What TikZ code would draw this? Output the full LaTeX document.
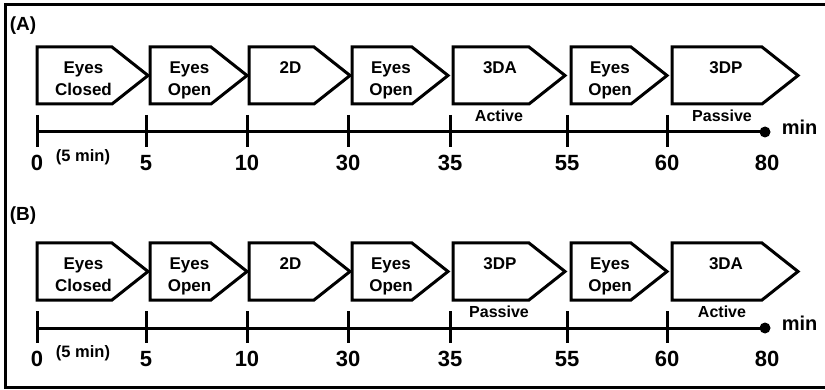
\documentclass[tikz,border=0pt]{standalone}
\usepackage{fontspec}
\setmainfont{Liberation Sans}
\usetikzlibrary{positioning}

\begin{document}
\begin{tikzpicture}[x=1pt, y=-1pt, line width=3pt,
  stagebox/.style={line join=miter},
  stagelabel/.style={anchor=north, align=center, inner sep=0pt,
    font=\fontsize{17}{22}\selectfont\bfseries},
  sublabel/.style={font=\fontsize{16}{16}\selectfont\bfseries},
  ticklabel/.style={font=\fontsize{22}{22}\selectfont\bfseries},
  panellabel/.style={font=\fontsize{19}{19}\selectfont\bfseries}]
  \useasboundingbox (0,0) rectangle (825,390);
  \draw (5,4.5) rectangle (832,387);
  \node[panellabel] (labA) at (23,26) {(A)};
  \node[panellabel] (labB) at (23,216) {(B)};
  % the two orders of the session
  \foreach \p/\dy/\ka/\kb/\ta/\tb in
      {A/0/3DA/3DP/Active/Passive, B/196/3DP/3DA/Passive/Active} {
    \begin{scope}[yshift=-\dy pt]
      \foreach \i/\l/\t/\txt in {1/37/148/{Eyes\\Closed}, 2/150/247/{Eyes\\Open},
          3/249/350/2D, 4/352/448/{Eyes\\Open}, 5/453/565/\ka,
          6/571/667/{Eyes\\Open}, 7/672/798/\kb} {
        \draw[stagebox] (\l,47) -- (\t-36,47) -- (\t,75.5) -- (\t-36,104)
          -- (\l,104) -- cycle;
        \node[stagelabel] (\p-s\i) at ({(\l+\t)/2-9},60) {\txt};
      }
      \node[sublabel] (\p-sub5) at (499,116) {\ta};
      \node[sublabel] (\p-sub7) at (722,116) {\tb};
      % time axis
      \foreach \j/\x/\n in {0/37/0, 1/146/5, 2/247/10, 3/348/30, 4/450/35,
          5/567/55, 6/667/60} {
        \coordinate (\p-t\j) at (\x,132);
        \draw (\x,115) -- (\x,147);
        \node[ticklabel] (\p-n\j) at (\x,163) {\n};
      }
      \coordinate (\p-end) at (765,132);
      \draw (\p-t0) -- (\p-end);
      \fill (\p-end) circle (5.5);
      \node[ticklabel] (\p-n7) at (767,163) {80};
      \node[font=\fontsize{20}{20}\selectfont\bfseries, anchor=west]
        (\p-min) at (777,127) {min};
      \node[font=\fontsize{16.5}{16.5}\selectfont\bfseries] (\p-five)
        at (83,157) {(5 min)};
    \end{scope}
  }
\end{tikzpicture}
\end{document}
